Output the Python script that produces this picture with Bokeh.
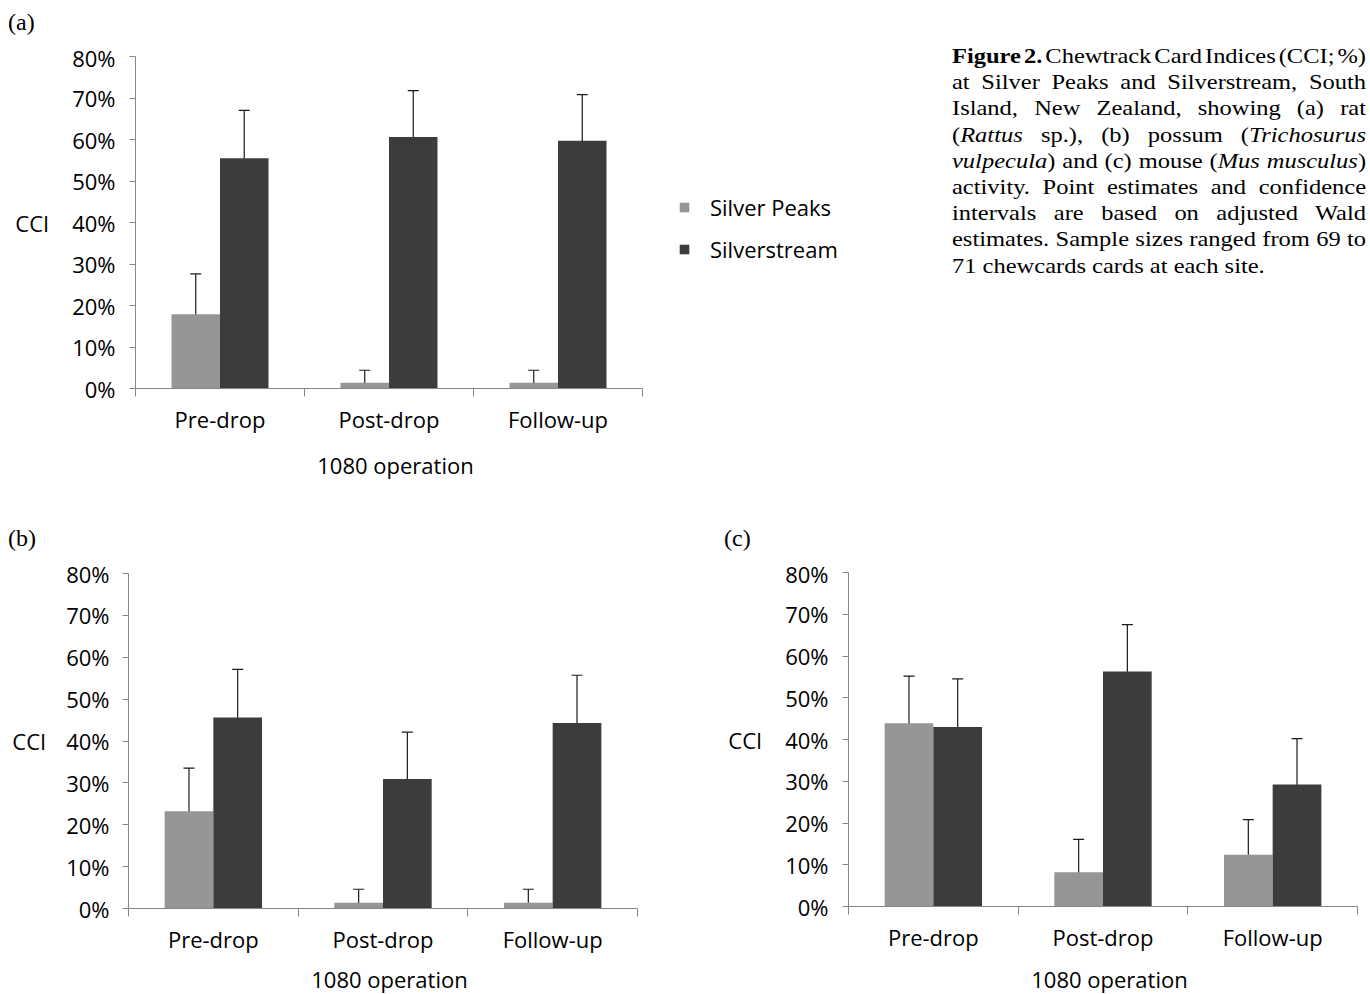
from bokeh.plotting import figure
from bokeh.models import (ColumnDataSource, Whisker, TeeHead, FixedTicker, LinearAxis,
                          PrintfTickFormatter, Legend, LegendItem, Div, Range1d)
from bokeh.layouts import row, column
from bokeh.embed import file_html
from bokeh.resources import INLINE

categories = ["Pre-drop", "Post-drop", "Follow-up"]
series = ["Silver Peaks", "Silverstream"]
y_ticks = [0, 10, 20, 30, 40, 50, 60, 70, 80]
x_title = "1080 operation"
y_title = "CCI"

# (a) rat
a_sp = [17.9, 1.4, 1.4]
a_sp_lo = [9.8, 0.0, 0.0]
a_sp_hi = [27.6, 4.4, 4.4]
a_ss = [55.5, 60.6, 59.7]
a_ss_lo = [44.1, 49.1, 48.2]
a_ss_hi = [67.0, 71.8, 70.8]

# (b) possum
b_sp = [23.2, 1.4, 1.4]
b_sp_lo = [14.3, 0.0, 0.0]
b_sp_hi = [33.5, 4.6, 4.6]
b_ss = [45.6, 30.9, 44.3]
b_ss_lo = [34.6, 20.9, 33.3]
b_ss_hi = [57.1, 42.1, 55.7]

# (c) mouse
c_sp = [43.9, 8.2, 12.4]
c_sp_lo = [32.7, 2.6, 5.6]
c_sp_hi = [55.2, 16.1, 20.8]
c_ss = [43.0, 56.3, 29.2]
c_ss_lo = [31.8, 44.8, 19.2]
c_ss_hi = [54.5, 67.5, 40.2]

SP_COLOR = "#969696"
SS_COLOR = "#3c3c3c"
AXIS_COLOR = "#868686"
FONT = "Open Sans"
FS = "22px"
BW = 0.287


def make_panel(sp, sp_lo, sp_hi, ss, ss_lo, ss_hi, width, height, bl, br, bt, bb,
               lab_sto=14, ttl_sto=20):
    p = figure(width=width, height=height, x_range=Range1d(0, len(categories)),
               y_range=Range1d(0, 80), output_backend="svg", toolbar_location=None,
               min_border_left=bl, min_border_right=br, min_border_top=bt, min_border_bottom=bb)
    p.xgrid.visible = False
    p.ygrid.visible = False
    p.outline_line_color = None
    p.margin = 0

    centers = [i + 0.5 for i in range(len(categories))]
    x_sp = [c - BW / 2 for c in centers]
    x_ss = [c + BW / 2 for c in centers]
    src_sp = ColumnDataSource(dict(x=x_sp, top=sp, lo=sp_lo, hi=sp_hi))
    src_ss = ColumnDataSource(dict(x=x_ss, top=ss, lo=ss_lo, hi=ss_hi))
    p.vbar(x="x", top="top", bottom=0, width=BW, source=src_sp,
           fill_color=SP_COLOR, line_color=None)
    p.vbar(x="x", top="top", bottom=0, width=BW, source=src_ss,
           fill_color=SS_COLOR, line_color=None)
    for src in (src_sp, src_ss):
        w = Whisker(base="x", upper="hi", lower="lo", source=src,
                    line_color="#1a1a1a", line_width=1.2,
                    upper_head=TeeHead(size=11, line_color="#1a1a1a", line_width=1.2),
                    lower_head=TeeHead(size=11, line_color="#1a1a1a", line_width=1.2))
        p.add_layout(w)

    # y axis
    ya = p.yaxis[0]
    ya.ticker = FixedTicker(ticks=y_ticks)
    ya.formatter = PrintfTickFormatter(format="%d%%")
    ya.axis_line_color = AXIS_COLOR
    ya.major_tick_line_color = AXIS_COLOR
    ya.minor_tick_line_color = None
    ya.major_tick_out = 6
    ya.major_tick_in = 0
    ya.major_label_standoff = lab_sto
    ya.major_label_text_font = FONT
    ya.major_label_text_font_size = FS
    ya.major_label_text_color = "#000000"
    ya.axis_label = y_title
    ya.axis_label_orientation = "horizontal"
    ya.axis_label_standoff = ttl_sto
    ya.axis_label_text_font = FONT
    ya.axis_label_text_font_size = FS
    ya.axis_label_text_font_style = "normal"
    ya.axis_label_text_color = "#000000"

    # x axis: boundary ticks (no labels)
    bounds = list(range(len(categories) + 1))
    xa = p.xaxis[0]
    xa.ticker = FixedTicker(ticks=bounds)
    xa.major_label_overrides = {b: "" for b in bounds}
    xa.axis_line_color = AXIS_COLOR
    xa.major_tick_line_color = AXIS_COLOR
    xa.minor_tick_line_color = None
    xa.major_tick_out = 8
    xa.major_tick_in = 0
    xa.major_label_text_font_size = "0px"
    xa.major_label_standoff = 0

    # x axis: category labels
    xl = LinearAxis(ticker=FixedTicker(ticks=centers),
                    major_label_overrides={c: cat for c, cat in zip(centers, categories)},
                    axis_line_color=None, major_tick_line_color=None, minor_tick_line_color=None,
                    major_label_standoff=1, major_label_text_font=FONT,
                    major_label_text_font_size=FS, major_label_text_color="#000000")
    p.add_layout(xl, "below")
    return p


def legend_figure(width, height, loc):
    f = figure(width=width, height=height, x_range=Range1d(0, 1), y_range=Range1d(0, 1),
               output_backend="svg", toolbar_location=None, min_border=0)
    f.axis.visible = False
    f.grid.visible = False
    f.outline_line_color = None
    f.margin = 0
    # legend swatches only: placed outside the visible range of this empty helper figure
    r_sp = f.vbar(x=[5], top=[1], width=0.1, fill_color=SP_COLOR, line_color=None)
    r_ss = f.vbar(x=[5], top=[1], width=0.1, fill_color=SS_COLOR, line_color=None)
    lg = Legend(items=[LegendItem(label=series[0], renderers=[r_sp]),
                       LegendItem(label=series[1], renderers=[r_ss])],
                location=loc, glyph_width=12, glyph_height=12, label_height=30,
                label_standoff=20, spacing=12, padding=0, margin=0,
                border_line_color=None, background_fill_alpha=0,
                label_text_font=FONT, label_text_font_size=FS, label_text_color="#000000")
    f.add_layout(lg)
    return f


def panel_label(txt, width, pad_left=0):
    return Div(text=f'<div style="font-family:\'Liberation Serif\';font-size:24px;line-height:28px;'
                    f'padding-left:{pad_left}px;color:#000">{txt}</div>',
               width=width, height=34, margin=0)


def axis_title(width, height, left, frame_w, pad_top):
    return Div(text=f'<div style="font-family:\'Open Sans\';font-size:22px;line-height:30px;'
                    f'margin-left:{left}px;width:{frame_w}px;text-align:center;'
                    f'padding-top:{pad_top}px;color:#000;white-space:nowrap">{x_title}</div>',
               width=width, height=height, margin=0)


fig_a = make_panel(a_sp, a_sp_lo, a_sp_hi, a_ss, a_ss_lo, a_ss_hi,
                   654, 396, 127, 20, 14, 50)
leg = legend_figure(290, 396, (16, 124))
fig_b = make_panel(b_sp, b_sp_lo, b_sp_hi, b_ss, b_ss_lo, b_ss_hi,
                   708, 400, 120, 79, 15, 50, lab_sto=13, ttl_sto=17)
fig_c = make_panel(c_sp, c_sp_lo, c_sp_hi, c_ss, c_ss_lo, c_ss_hi,
                   646, 400, 132, 5, 14, 52)

caption_lines = [
    '<span style="word-spacing:-3px"><b>Figure 2.</b> Chewtrack Card Indices (CCI; %)</span>',
    "at Silver Peaks and Silverstream, South",
    "Island, New Zealand, showing (a) rat",
    "(<i>Rattus</i> sp.), (b) possum (<i>Trichosurus</i>",
    "<i>vulpecula</i>) and (c) mouse (<i>Mus musculus</i>)",
    "activity. Point estimates and confidence",
    "intervals are based on adjusted Wald",
    "estimates. Sample sizes ranged from 69 to",
    "71 chewcards cards at each site.",
]
line_divs = []
for i, ln in enumerate(caption_lines):
    last = i == len(caption_lines) - 1
    align = "left" if last else "justify"
    line_divs.append(f'<div style="text-align:{align};text-align-last:{align};'
                     f'white-space:nowrap;">{ln}</div>')
caption_html = ('<div style="font-family:\'Liberation Serif\';font-size:22px;line-height:26.2px;'
                'color:#000;padding-top:35px;width:372px;transform:scaleX(1.113);'
                'transform-origin:0 0;">' + "".join(line_divs) + '</div>')
caption = Div(text=caption_html, width=414, height=516, margin=0)

col_a = column(panel_label("(a)", 944), row(fig_a, leg, margin=0),
               axis_title(944, 86, 134, 507, 12), margin=0)
top = row(col_a, caption, margin=0)
col_b = column(panel_label("(b)", 708), fig_b, axis_title(708, 36, 127, 509, 6), margin=0)
col_c = column(panel_label("(c)", 646, 8), fig_c, axis_title(646, 36, 139, 509, 6), margin=0)
bottom = row(col_b, col_c, margin=0)
page = column(top, bottom, margin=(8, 0, 0, 8))

open("out.html", "w").write(file_html(page, INLINE))
